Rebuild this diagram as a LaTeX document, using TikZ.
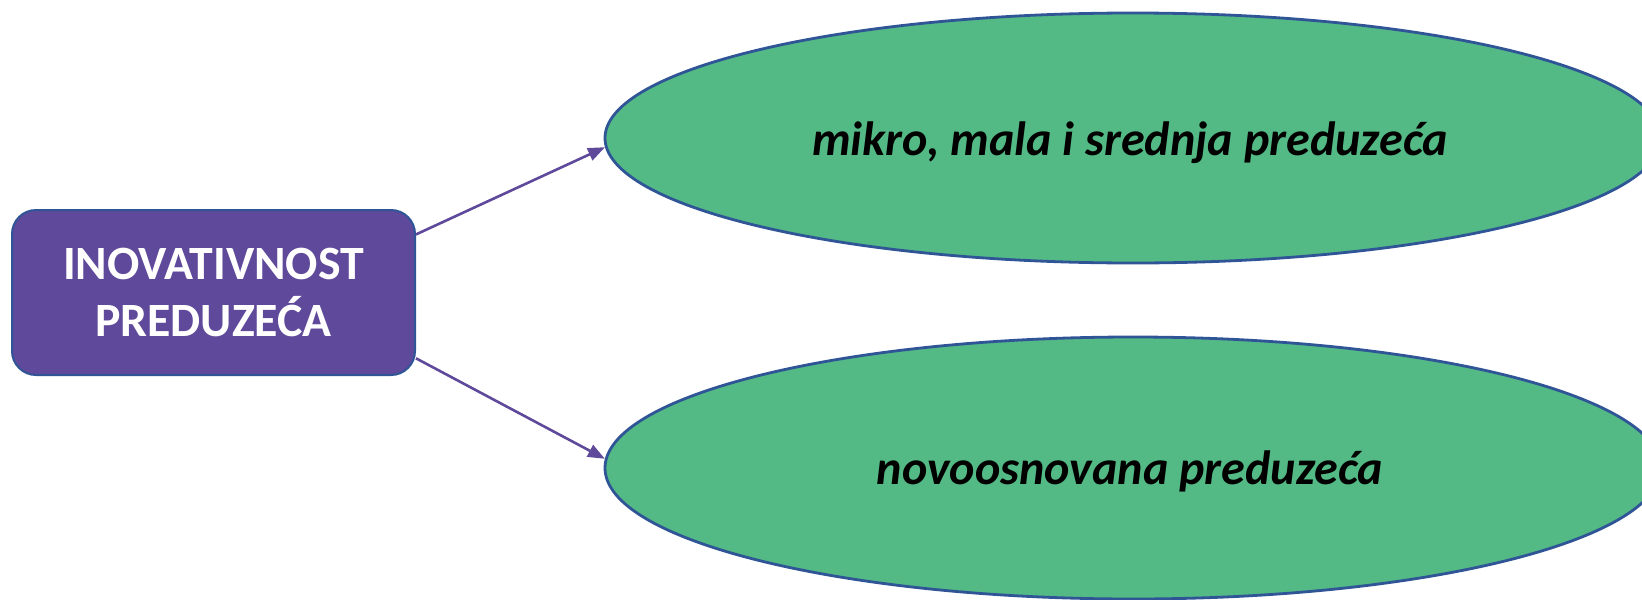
\documentclass[tikz,border=0pt]{standalone}
\usepackage{fontspec}
\setmainfont{Carlito}
\usetikzlibrary{shapes.geometric,arrows.meta}
\definecolor{boxfill}{RGB}{95,73,154}
\definecolor{edge}{RGB}{47,85,151}
\definecolor{ellfill}{RGB}{83,185,133}
\definecolor{arrowcol}{RGB}{95,73,154}
\begin{document}
\begin{tikzpicture}[x=1pt,y=-1pt,
  mainbox/.style={draw=edge, line width=2pt, fill=boxfill, rounded corners=24pt, minimum width=403pt, minimum height=165pt, inner sep=0pt, text=white, font=\fontsize{47.8}{57}\selectfont\bfseries, align=center},
  oval/.style={ellipse, draw=edge, line width=2.8pt, fill=ellfill, inner sep=0pt},
  ovaltext/.style={font=\fontsize{48.1}{56}\selectfont\bfseries\itshape, anchor=base, inner sep=0pt},
  link/.style={draw=arrowcol, line width=2.6pt, -{Triangle[length=17pt,width=13pt]}}]
\useasboundingbox (0,0) rectangle (1642,600);
\node[mainbox] (src) at (213.5,292.5) {INOVATIVNOST\\PREDUZEĆA};
\node[oval, minimum width=1056pt, minimum height=250pt] (e1) at (1133,138) {};
\node[oval, minimum width=1056pt, minimum height=262pt] (e2) at (1133,468) {};
\node[ovaltext] (t1) at (1130,155) {mikro, mala i srednja preduzeća};
\node[ovaltext] (t2) at (1130,484) {novoosnovana preduzeća};
\draw[link] (src.16.4) -- (e1.181);
\draw[link] (src.-18.5) -- (e2.179.5);
\end{tikzpicture}
\end{document}
